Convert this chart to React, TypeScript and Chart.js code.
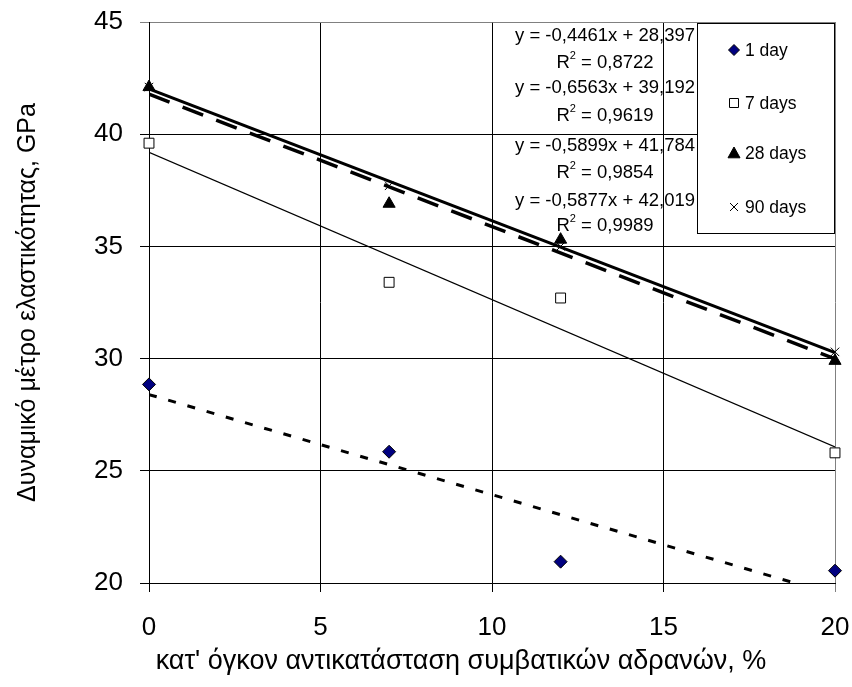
import React, { useEffect, useRef } from 'react';
import { Chart, registerables } from 'chart.js';

Chart.register(...registerables);

// ---- data ----
const xValues = [0, 7, 12, 20];
const seriesNames = ['1 day', '7 days', '28 days', '90 days'];
const day1 = [28.85, 25.85, 20.95, 20.55];
const day7 = [39.6, 33.4, 32.7, 25.8];
const day28 = [42.1, 36.9, 35.3, 29.9];
const day90 = [42.1, 37.7, 35.0, 30.3];
const slopes = [-0.4461, -0.6563, -0.5899, -0.5877];
const intercepts = [28.397, 39.192, 41.784, 42.019];
const equationLabels = [
  'y = -0,4461x + 28,397',
  'y = -0,6563x + 39,192',
  'y = -0,5899x + 41,784',
  'y = -0,5877x + 42,019',
];
const r2Labels = ['0,8722', '0,9619', '0,9854', '0,9989'];
const xTitle = 'κατ\' όγκον αντικατάσταση συμβατικών αδρανών, %';
const yTitle = 'Δυναμικό μέτρο ελαστικότητας, GPa';
const xMin = 0, xMax = 20, xStep = 5;
const yMin = 20, yMax = 45, yStep = 5;

const FONT = '"Liberation Sans", Arial, sans-serif';

const seriesValues = [day1, day7, day28, day90];
const markerStyles = ['rectRot', 'rect', 'triangle', 'crossRot'];
const markerFill = ['#000080', '#ffffff', '#000000', '#000000'];
const markerRadius = [6.5, 7, 7, 6];
const trendDash = [[8, 12], [], [22, 14], []];
const trendWidth = [3, 1.3, 3.5, 3];

function drawMarker(ctx: CanvasRenderingContext2D, i: number, x: number, y: number) {
  ctx.save();
  ctx.strokeStyle = '#000';
  ctx.fillStyle = markerFill[i];
  ctx.lineWidth = 1;
  ctx.beginPath();
  if (i === 0) {
    const r = 5.5;
    ctx.moveTo(x, y - r); ctx.lineTo(x + r, y); ctx.lineTo(x, y + r); ctx.lineTo(x - r, y); ctx.closePath();
    ctx.fill(); ctx.stroke();
  } else if (i === 1) {
    ctx.rect(x - 4.5, y - 4.5, 9, 9); ctx.fill(); ctx.stroke();
  } else if (i === 2) {
    const r = 6;
    ctx.moveTo(x, y - r); ctx.lineTo(x + r, y + r * 0.8); ctx.lineTo(x - r, y + r * 0.8); ctx.closePath();
    ctx.fill(); ctx.stroke();
  } else {
    const r = 4;
    ctx.moveTo(x - r, y - r); ctx.lineTo(x + r, y + r);
    ctx.moveTo(x + r, y - r); ctx.lineTo(x - r, y + r);
    ctx.stroke();
  }
  ctx.restore();
}

const overlayPlugin = {
  id: 'overlay',
  afterDatasetsDraw(chart: any) {
    const ctx: CanvasRenderingContext2D = chart.ctx;
    ctx.save();
    // trendline equations
    ctx.fillStyle = '#000';
    ctx.textBaseline = 'middle';
    const eqY = [36, 63, 88, 116, 146, 173, 201, 226];
    const cx = 605;
    const big = 18.5;
    const small = 11;
    for (let i = 0; i < 4; i++) {
      ctx.font = `${big}px ${FONT}`;
      ctx.textAlign = 'center';
      ctx.fillText(equationLabels[i], cx, eqY[i * 2]);
      // R² line
      const a = 'R';
      const b = ' = ' + r2Labels[i];
      ctx.font = `${big}px ${FONT}`;
      const wa = ctx.measureText(a).width;
      const wb = ctx.measureText(b).width;
      ctx.font = `${small}px ${FONT}`;
      const ws = ctx.measureText('2').width;
      const total = wa + ws + wb;
      const x0 = cx - total / 2;
      const y = eqY[i * 2 + 1];
      ctx.textAlign = 'left';
      ctx.font = `${big}px ${FONT}`;
      ctx.fillText(a, x0, y);
      ctx.font = `${small}px ${FONT}`;
      ctx.fillText('2', x0 + wa, y - 7);
      ctx.font = `${big}px ${FONT}`;
      ctx.fillText(b, x0 + wa + ws, y);
    }
    // legend box
    ctx.fillStyle = '#fff';
    ctx.fillRect(697, 23, 137, 210);
    ctx.strokeStyle = '#000';
    ctx.lineWidth = 1;
    ctx.strokeRect(697.5, 23.5, 137, 210);
    const legY = [50, 103, 153, 207];
    for (let i = 0; i < 4; i++) {
      drawMarker(ctx, i, 734, legY[i]);
      ctx.fillStyle = '#000';
      ctx.font = `17.5px ${FONT}`;
      ctx.textAlign = 'left';
      ctx.textBaseline = 'middle';
      ctx.fillText(seriesNames[i], 745, legY[i] + 1);
    }
    // x axis title
    ctx.font = `27px ${FONT}`;
    ctx.textAlign = 'center';
    ctx.textBaseline = 'middle';
    ctx.fillStyle = '#000';
    ctx.fillText(xTitle, 461, 662);
    ctx.restore();
  },
};

export default function App() {
  const ref = useRef<HTMLCanvasElement>(null);
  useEffect(() => {
    const canvas = ref.current;
    if (!canvas) return;
    const datasets: any[] = [];
    for (let i = 0; i < 4; i++) {
      datasets.push({
        type: 'line',
        label: seriesNames[i] + ' trend',
        data: [
          { x: xMin, y: slopes[i] * xMin + intercepts[i] },
          { x: xMax, y: slopes[i] * xMax + intercepts[i] },
        ],
        borderColor: '#000',
        borderWidth: trendWidth[i],
        borderDash: trendDash[i],
        pointRadius: 0,
        fill: false,
        order: 10,
      });
    }
    for (let i = 0; i < 4; i++) {
      datasets.push({
        type: 'scatter',
        label: seriesNames[i],
        data: xValues.map((x, j) => ({ x, y: seriesValues[i][j] })),
        showLine: false,
        pointStyle: markerStyles[i],
        pointRadius: markerRadius[i],
        pointBackgroundColor: markerFill[i],
        pointBorderColor: '#000',
        pointBorderWidth: 1,
        clip: false,
        order: 1,
      });
    }
    const chart = new Chart(canvas, {
      type: 'scatter',
      data: { datasets },
      options: {
        responsive: false,
        animation: false,
        devicePixelRatio: 1,
        layout: { padding: { left: 0, right: 17, top: 22, bottom: 0 } },
        plugins: { legend: { display: false }, tooltip: { enabled: false } },
        scales: {
          x: {
            type: 'linear',
            min: xMin,
            max: xMax,
            ticks: { stepSize: xStep, color: '#000', font: { family: FONT, size: 26 }, padding: 20, maxRotation: 0 },
            grid: {
              color: (c: any) => (c.tick && c.tick.value === xMax ? '#808080' : '#000'),
              lineWidth: 1,
              tickLength: 9,
            },
            border: { color: '#000', width: 1 },
            afterFit: (s: any) => {
              s.height = 104;
              s.paddingLeft = 0;
              s.paddingRight = 0;
            },
          },
          y: {
            type: 'linear',
            min: yMin,
            max: yMax,
            ticks: { stepSize: yStep, color: '#000', font: { family: FONT, size: 26 }, padding: 17 },
            grid: {
              color: (c: any) => (c.tick && c.tick.value === yMax ? '#808080' : '#000'),
              lineWidth: 1,
              tickLength: 9,
            },
            border: { color: '#000', width: 1 },
            title: {
              display: true,
              text: yTitle,
              color: '#000',
              font: { family: FONT, size: 25 },
              padding: { top: 13, bottom: 4 },
            },
            afterFit: (s: any) => {
              s.width = 149;
              s.paddingTop = 0;
              s.paddingBottom = 0;
            },
          },
        },
      },
      plugins: [overlayPlugin],
    } as any);
    return () => chart.destroy();
  }, []);
  return (
    <div style={{ position: 'absolute', left: 0, top: 0, width: 852, height: 687, background: '#fff' }}>
      <canvas ref={ref} width={852} height={687} />
    </div>
  );
}
